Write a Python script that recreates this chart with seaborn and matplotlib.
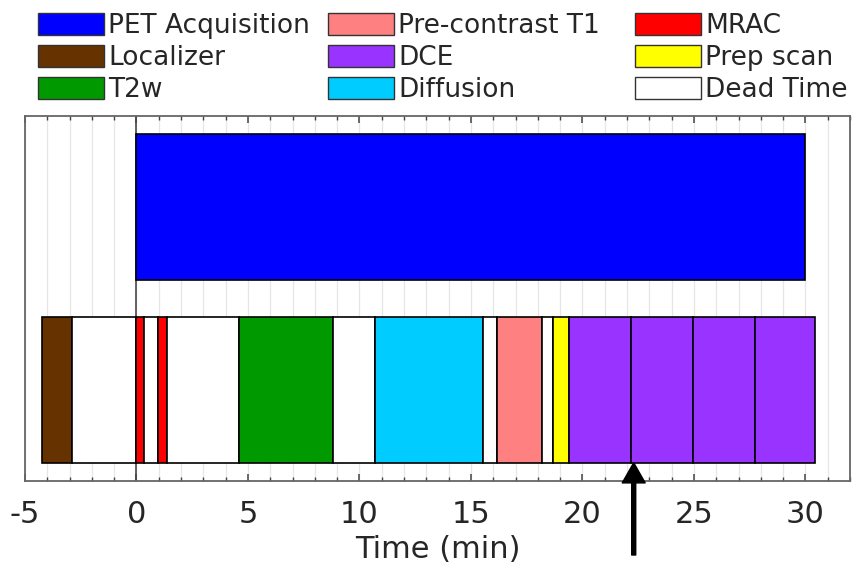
import matplotlib
matplotlib.use("Agg")
import matplotlib.pyplot as plt
import matplotlib.patches as mpatches
import seaborn as sns
import pandas as pd

# Protocol timeline (minutes relative to PET start)
pet_start = 0.0
pet_end = 30.0

seg_labels = ["Localizer", "Dead Time", "MRAC", "Dead Time", "MRAC", "Dead Time",
              "T2w", "Dead Time", "Diffusion", "Dead Time", "Pre-contrast T1",
              "Dead Time", "Prep scan", "DCE", "DCE", "DCE", "DCE"]
seg_start = [-4.25, -2.88, 0.0, 0.33, 0.95, 1.38, 4.59, 8.82, 10.68, 15.52,
             16.15, 18.20, 18.69, 19.41, 22.17, 24.94, 27.72]
seg_end = [-2.88, 0.0, 0.33, 0.95, 1.38, 4.59, 8.82, 10.68, 15.52, 16.15,
           18.20, 18.69, 19.41, 22.17, 24.94, 27.72, 30.45]

arrow_x = 22.3

palette = {
    "PET Acquisition": "#0000FF",
    "Localizer": "#663300",
    "T2w": "#009900",
    "Pre-contrast T1": "#FF8080",
    "DCE": "#9933FF",
    "Diffusion": "#00CCFF",
    "MRAC": "#FF0000",
    "Prep scan": "#FFFF00",
    "Dead Time": "#FFFFFF",
}

legend_cols = [
    ["PET Acquisition", "Localizer", "T2w"],
    ["Pre-contrast T1", "DCE", "Diffusion"],
    ["MRAC", "Prep scan", "Dead Time"],
]

sns.set_theme(style="white")
plt.rcParams["font.family"] = ["DejaVu Sans"]
plt.rcParams["axes.unicode_minus"] = False

fig = plt.figure(figsize=(8.53, 5.65), dpi=100)
ax = fig.add_axes([25 / 853, 1 - 481 / 565, 825 / 853, 365 / 565])

rows = ["PET", "MR"]

# faint minute grid and the t=0 marker
for m in range(-5, 33):
    ax.axvline(m, color="#e6e6e6", lw=0.9, zorder=0)
ax.axvline(0, color="#555555", lw=1.3, zorder=0.5)

# PET acquisition bar
pet_df = pd.DataFrame({"row": ["PET"], "dur": [pet_end - pet_start]})
sns.barplot(data=pet_df, x="dur", y="row", order=rows, orient="h",
            color=palette["PET Acquisition"], saturation=1, width=0.8,
            edgecolor="black", linewidth=1.2, ax=ax, zorder=2)

# MR sequence row
seg = pd.DataFrame({"label": seg_labels, "start": seg_start, "end": seg_end})
seg["dur"] = seg["end"] - seg["start"]
ax.barh([1] * len(seg), seg["dur"], left=seg["start"], height=0.8,
        color=[palette[l] for l in seg["label"]], edgecolor="black",
        linewidth=1.2, zorder=2)

ax.set_xlim(-5, 32)
ax.set_ylim(1.5, -0.5)
ax.set_ylabel("")
ax.set_yticks([])
ax.set_xticks(range(-5, 31, 5))
ax.set_xticks(range(-5, 33), minor=True)
ax.tick_params(axis="x", which="both", direction="in", top=True, bottom=True,
               color="#444444", labelsize=22, labelcolor="#262626", pad=14)
ax.tick_params(axis="x", which="major", length=5, width=1.1)
ax.tick_params(axis="x", which="minor", length=3, width=1.0)
ax.set_xlabel("Time (min)", fontsize=22, color="#262626", labelpad=4)
for sp in ax.spines.values():
    sp.set_color("#666666")
    sp.set_linewidth(1.3)
    sp.set_visible(True)

# arrow below the axis pointing at the DCE series
ax.annotate("", xy=(arrow_x, 1.4), xycoords="data",
            xytext=(arrow_x, 1 - 555 / 565), textcoords=("data", "figure fraction"),
            arrowprops=dict(facecolor="black", edgecolor="black", width=2.9,
                            headwidth=16.5, headlength=14.5, shrink=0),
            annotation_clip=False)

# three-column legend, placed column by column
col_x = [38, 328, 635]
for cx, names in zip(col_x, legend_cols):
    handles = [mpatches.Patch(facecolor=palette[n], edgecolor="#333333",
                              linewidth=1.0, label=n) for n in names]
    fig.legend(handles=handles, loc="upper left",
               bbox_to_anchor=(cx / 853, 1 - 13 / 565), frameon=False,
               fontsize=19, handlelength=2.5, handleheight=0.9,
               handletextpad=0.15, labelspacing=0.22, borderpad=0,
               borderaxespad=0)

fig.savefig("out.png", dpi=100)
